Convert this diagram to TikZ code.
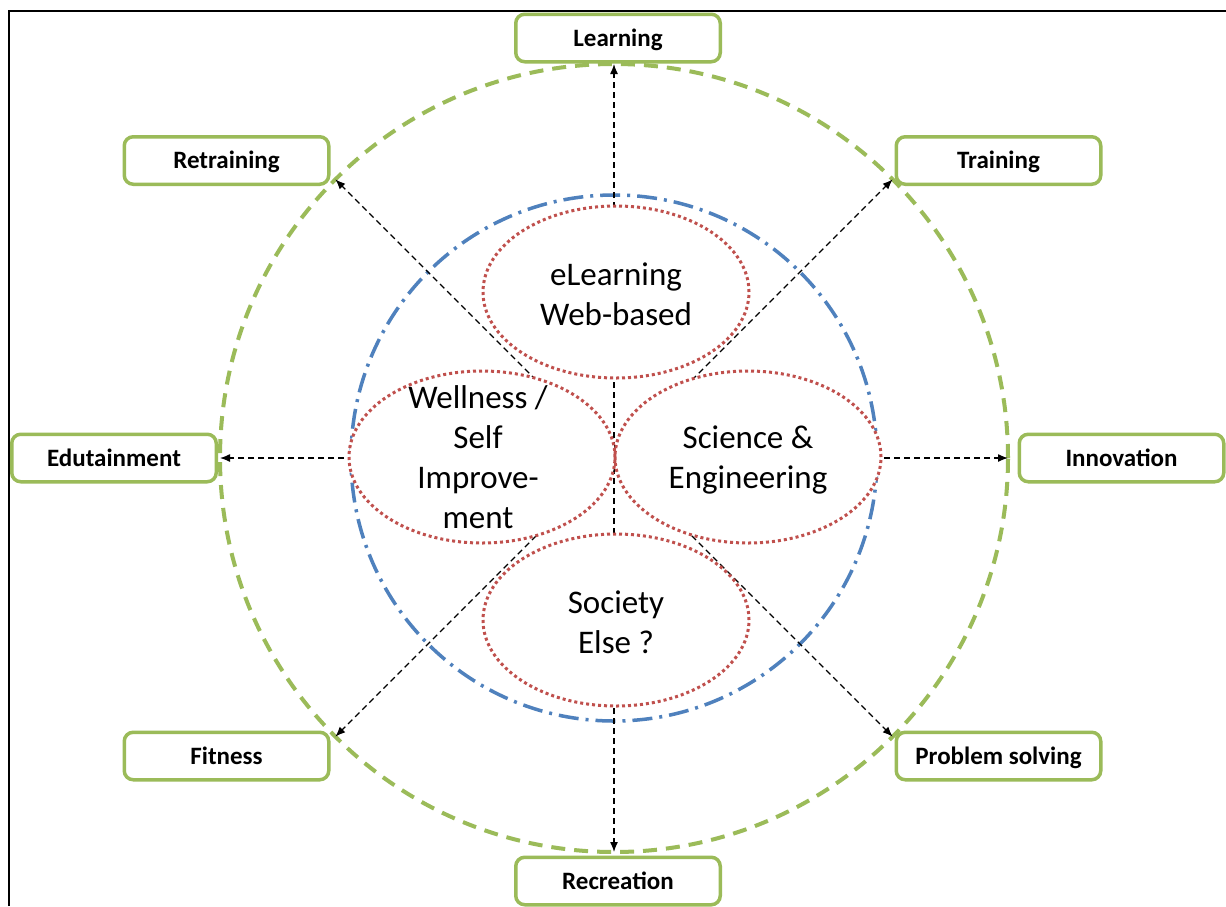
\documentclass[tikz,border=0pt]{standalone}
\usepackage{fontspec}
\setmainfont{Carlito}
\usetikzlibrary{shapes.geometric,arrows.meta}
\definecolor{ringgreen}{HTML}{9BBB59}
\definecolor{ringblue}{HTML}{4F81BD}
\definecolor{dotred}{HTML}{C0504D}
\begin{document}
\begin{tikzpicture}[x=1pt,y=-1pt,
  box/.style={draw=ringgreen, line width=3.5pt, rounded corners=9pt, fill=white,
    minimum width=204.5pt, minimum height=47.5pt, inner sep=0pt, outer sep=0pt,
    text height=16pt, text depth=0pt,
    font=\fontsize{25}{29}\selectfont\bfseries},
  lobe/.style={ellipse, fill=white, minimum width=266pt, minimum height=172pt,
    inner sep=0pt, outer sep=0pt},
  lobeline/.style={draw=dotred, line width=3pt, dash pattern=on 3pt off 3pt},
  lobetext/.style={align=center, font=\fontsize{33}{40}\selectfont},
  link/.style={draw=black, line width=1.3pt, dash pattern=on 6pt off 4pt,
    -{Latex[length=10pt,width=8pt]}},
  outerring/.style={circle, draw=ringgreen, line width=4pt, dash pattern=on 14pt off 9pt,
    minimum size=788pt, inner sep=0pt, outer sep=0pt},
  innerring/.style={circle, draw=ringblue, line width=3.5pt,
    dash pattern=on 20pt off 7pt on 3pt off 7pt,
    minimum size=526pt, inner sep=0pt, outer sep=0pt}
]
\useasboundingbox (0,0) rectangle (1226,906);
\fill[white] (0,0) rectangle (1226,906);

% frame
\draw[line width=2pt] (9,906) -- (9,11) -- (1226,11);

% rings
\coordinate (hub) at (614,458);
\node[outerring] (ring) at (hub) {};
\node[innerring] (core) at (hub) {};

% spokes from the hub out to the green ring
\draw[link] (hub) -- (ring.90);
\draw[link] (hub) -- (ring.45);
\draw[link] (hub) -- (ring.0);
\draw[link] (hub) -- (ring.-45);
\draw[link] (hub) -- (ring.-90);
\draw[link] (hub) -- (ring.-135);
\draw[link] (hub) -- (ring.180);
\draw[link] (hub) -- (ring.135);

% four overlapping lobes: fills first, then dotted outlines
\node[lobe] (web) at (616,292) {};
\node[lobe] (soc) at (616,620) {};
\node[lobe] (well) at (482,457) {};
\node[lobe] (sci) at (748,457) {};
\foreach \n in {web,soc,well,sci}
  \draw[lobeline] (\n.center) ellipse [x radius=133pt, y radius=86pt];

\node[lobetext] (webtxt) at ([yshift=-2pt]web.center) {eLearning\\Web-based};
\node[lobetext] (soctxt) at ([yshift=-2pt]soc.center) {Society\\Else ?};
\node[lobetext] (welltxt) at ([xshift=-4pt]well.center) {Wellness /\\Self\\Improve-\\ment};
\node[lobetext] (scitxt) at ([yshift=-3pt]sci.center) {Science \&\\Engineering};

% outer labels
\node[box] (learn) at (618,38) {Learning};
\node[box] (train) at (998.5,160.5) {Training};
\node[box] (retrain) at (226.5,160.5) {Retraining};
\node[box] (edu) at (114,458) {Edutainment};
\node[box] (innov) at (1121.5,458) {Innovation};
\node[box] (fit) at (226.5,756) {Fitness};
\node[box] (prob) at (998.5,756) {Problem solving};
\node[box] (recr) at (618,881) {Recreation};
\end{tikzpicture}
\end{document}
